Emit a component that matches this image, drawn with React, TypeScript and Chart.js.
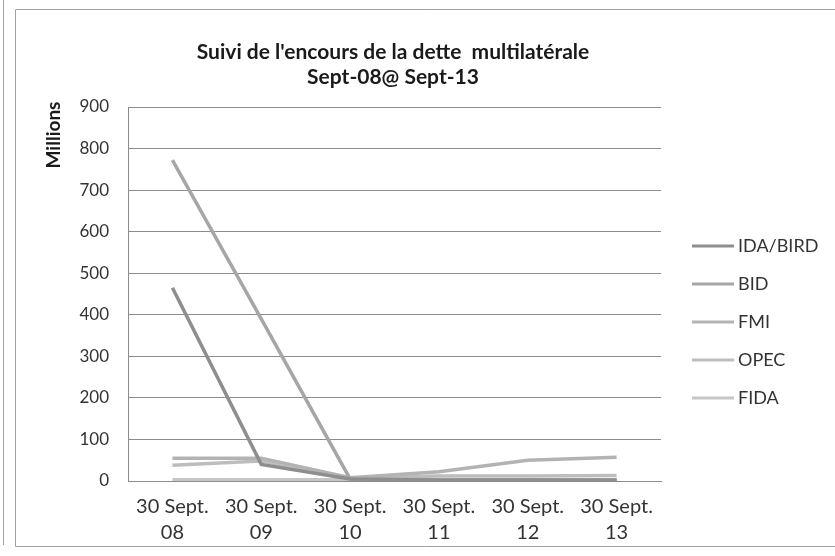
import React, { useEffect, useRef } from "react";
import { Chart, registerables } from "chart.js";

Chart.register(...registerables);

const categories: string[][] = [
  ["30 Sept.", "08"],
  ["30 Sept.", "09"],
  ["30 Sept.", "10"],
  ["30 Sept.", "11"],
  ["30 Sept.", "12"],
  ["30 Sept.", "13"],
];
const seriesNames = ["IDA/BIRD", "BID", "FMI", "OPEC", "FIDA"];
const idaBird = [465, 40, 5, 2, 2, 2];
const bid = [772, 390, 5, 3, 3, 3];
const fmi = [55, 55, 8, 22, 50, 57];
const opec = [38, 48, 8, 12, 12, 13];
const fida = [3, 3, 3, 3, 3, 3];
const yMin = 0;
const yMax = 900;
const yStep = 100;
const titleLines = ["Suivi de l'encours de la dette  multilatérale", "Sept-08@ Sept-13"];
const unitLabel = "Millions";

const seriesValues = [idaBird, bid, fmi, opec, fida];
const seriesColors = ["#8e8e8e", "#a6a6a6", "#b3b3b3", "#bdbdbd", "#c6c6c6"];

const FONT = "Lato, 'Open Sans', sans-serif";
const TEXT = "#333333";

const decorPlugin = {
  id: "decor",
  beforeDraw(chart: any) {
    const ctx = chart.ctx;
    ctx.save();
    ctx.fillStyle = "#ffffff";
    ctx.fillRect(0, 0, chart.width, chart.height);
    ctx.strokeStyle = "#a0a0a0";
    ctx.lineWidth = 1;
    ctx.beginPath();
    ctx.moveTo(3.5, 0);
    ctx.lineTo(3.5, 545);
    ctx.stroke();
    ctx.beginPath();
    ctx.rect(15.5, 9.5, 830, 537);
    ctx.stroke();
    ctx.restore();
  },
  afterDraw(chart: any) {
    const ctx = chart.ctx;
    ctx.save();
    // title
    ctx.fillStyle = "#1a1a1a";
    ctx.font = `bold 21px ${FONT}`;
    ctx.textAlign = "center";
    ctx.textBaseline = "middle";
    ctx.fillText(titleLines[0], 393, 52);
    ctx.fillText(titleLines[1], 393, 77);
    // unit label
    ctx.save();
    ctx.translate(54, 135);
    ctx.rotate(-Math.PI / 2);
    ctx.font = `bold 19px ${FONT}`;
    ctx.fillText(unitLabel, 0, 0);
    ctx.restore();
    // legend
    ctx.textAlign = "left";
    ctx.font = `18px ${FONT}`;
    chart.data.datasets.forEach((ds: any, i: number) => {
      const y = 246 + i * 38;
      ctx.strokeStyle = ds.borderColor;
      ctx.lineWidth = 3;
      ctx.beginPath();
      ctx.moveTo(692, y);
      ctx.lineTo(734, y);
      ctx.stroke();
      ctx.fillStyle = TEXT;
      ctx.fillText(ds.label, 738, y);
    });
    ctx.restore();
  },
};

export default function App() {
  const ref = useRef<HTMLCanvasElement>(null);
  useEffect(() => {
    if (!ref.current) return;
    const chart = new Chart(ref.current, {
      type: "line",
      data: {
        labels: categories,
        datasets: seriesNames.map((name, i) => ({
          label: name,
          data: seriesValues[i],
          borderColor: seriesColors[i],
          backgroundColor: seriesColors[i],
          borderWidth: 3.5,
          pointRadius: 0,
          tension: 0,
          fill: false,
        })),
      },
      options: {
        responsive: false,
        animation: false,
        maintainAspectRatio: false,
        layout: { padding: { left: 0, top: 107, right: 174, bottom: 0 } },
        plugins: {
          legend: { display: false },
          title: { display: false },
          tooltip: { enabled: false },
        },
        scales: {
          x: {
            type: "category",
            offset: true,
            afterFit(scale: any) {
              scale.height = 75;
            },
            grid: { display: false, drawTicks: false },
            border: { display: true, color: "#8c8c8c", width: 1 },
            ticks: {
              color: TEXT,
              font: { family: FONT, size: 20, lineHeight: 1.3 },
              padding: 13,
              maxRotation: 0,
              autoSkip: false,
            },
          },
          y: {
            min: yMin,
            max: yMax,
            afterFit(scale: any) {
              scale.width = 128;
            },
            grid: { color: "#8c8c8c", lineWidth: 1, drawTicks: false },
            border: { display: true, color: "#8c8c8c", width: 1 },
            ticks: {
              stepSize: yStep,
              color: TEXT,
              font: { family: FONT, size: 17 },
              padding: 19,
            },
          },
        },
      },
      plugins: [decorPlugin],
    } as any);
    return () => chart.destroy();
  }, []);
  return (
    <div style={{ position: "absolute", left: 0, top: 0, width: 835, height: 556 }}>
      <canvas ref={ref} width={835} height={556} />
    </div>
  );
}
